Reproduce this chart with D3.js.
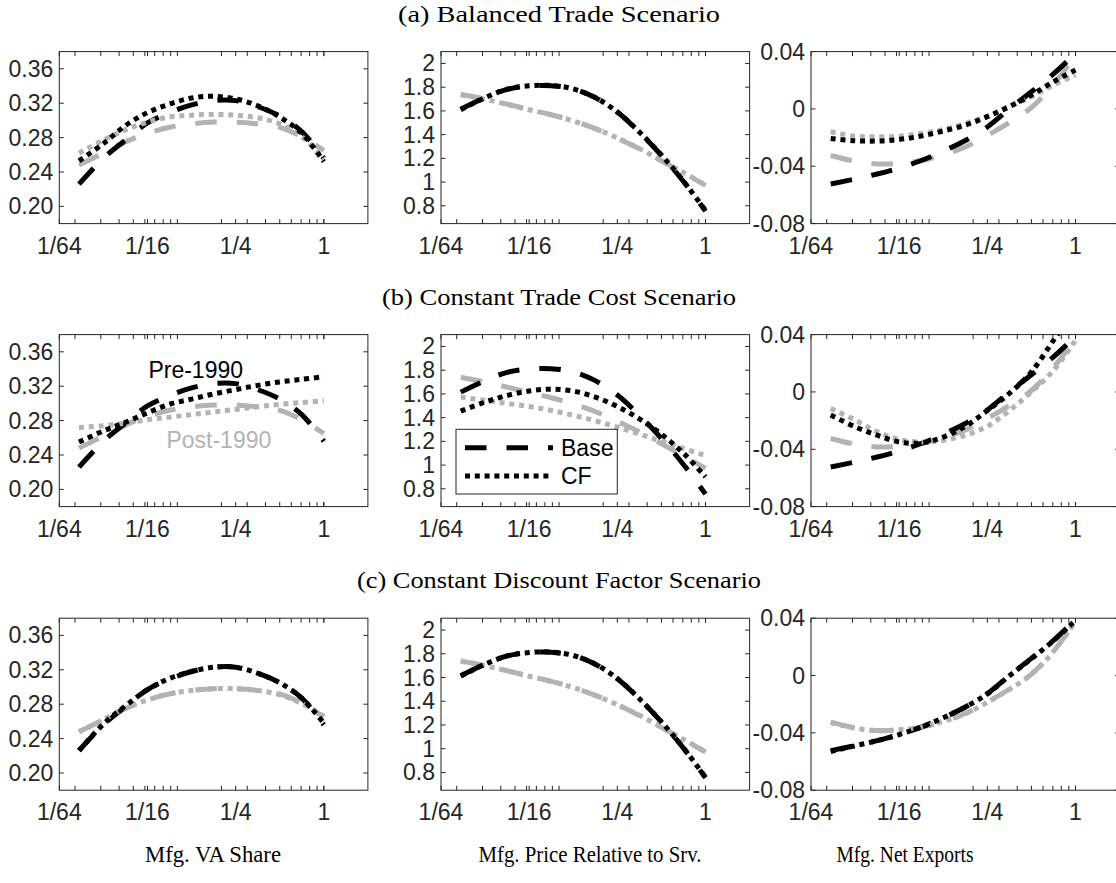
<!DOCTYPE html>
<html><head><meta charset="utf-8">
<script src="https://cdn.jsdelivr.net/npm/d3@7"></script>
<style>body{margin:0;background:#fff;} svg{display:block;}</style>
</head><body>
<svg id="chart" width="1116" height="883"></svg>
<script>
// ---------- data ----------
const scenarioTitles = ["(a) Balanced Trade Scenario", "(b) Constant Trade Cost Scenario", "(c) Constant Discount Factor Scenario"];
const columnLabels = ["Mfg. VA Share", "Mfg. Price Relative to Srv.", "Mfg. Net Exports"];
const xTickValues = [1/64, 1/16, 1/4, 1];
const xTickLabels = ["1/64", "1/16", "1/4", "1"];
const xMinorTicks = [0.02,0.03,0.04,0.05,0.06,0.07,0.08,0.09,0.1,0.2,0.3,0.4,0.5,0.6,0.7,0.8,0.9,1];
const vaTicks = [0.20, 0.24, 0.28, 0.32, 0.36];
const vaTickLabels = ["0.20", "0.24", "0.28", "0.32", "0.36"];
const prTicks = [0.8, 1, 1.2, 1.4, 1.6, 1.8, 2];
const prTickLabels = ["0.8", "1", "1.2", "1.4", "1.6", "1.8", "2"];
const nxTicks = [-0.08, -0.04, 0, 0.04];
const nxTickLabels = ["-0.08", "-0.04", "0", "0.04"];
const seriesNames = ["Base", "CF"];
const periodNames = ["Pre-1990", "Post-1990"];

// x grid of the plotted points
const xGrid = [0.0213, 0.03125, 0.0442, 0.0625, 0.0884, 0.125, 0.1768, 0.25, 0.3536, 0.5, 0.7071, 1];

// Mfg. VA share
const vaBasePre  = [0.226, 0.256, 0.277, 0.297, 0.309, 0.318, 0.323, 0.323, 0.316, 0.305, 0.287, 0.256];
const vaBasePost = [0.248, 0.262, 0.275, 0.285, 0.292, 0.296, 0.298, 0.298, 0.296, 0.292, 0.281, 0.265];
const vaCfPreA   = [0.253, 0.273, 0.294, 0.309, 0.319, 0.326, 0.328, 0.325, 0.317, 0.304, 0.285, 0.252];
const vaCfPostA  = [0.262, 0.277, 0.289, 0.298, 0.304, 0.306, 0.307, 0.306, 0.303, 0.296, 0.281, 0.255];
const vaCfPreB   = [0.255, 0.268, 0.278, 0.289, 0.299, 0.305, 0.311, 0.316, 0.321, 0.325, 0.328, 0.331];
const vaCfPostB  = [0.272, 0.274, 0.277, 0.281, 0.284, 0.287, 0.290, 0.293, 0.296, 0.299, 0.301, 0.303];
const vaCfPreC   = [0.226, 0.257, 0.278, 0.297, 0.310, 0.318, 0.323, 0.323, 0.316, 0.305, 0.287, 0.258];
const vaCfPostC  = [0.248, 0.262, 0.275, 0.285, 0.292, 0.296, 0.298, 0.298, 0.296, 0.291, 0.281, 0.266];

// Mfg. price relative to services
const prBasePre  = [1.615, 1.713, 1.782, 1.810, 1.813, 1.785, 1.712, 1.590, 1.420, 1.225, 1.005, 0.755];
const prBasePost = [1.740, 1.700, 1.657, 1.612, 1.568, 1.515, 1.450, 1.370, 1.280, 1.180, 1.078, 0.972];
const prCfPreA   = [1.610, 1.711, 1.783, 1.812, 1.815, 1.786, 1.713, 1.591, 1.422, 1.228, 1.008, 0.760];
const prCfPostA  = [1.735, 1.698, 1.655, 1.610, 1.567, 1.515, 1.451, 1.372, 1.282, 1.182, 1.080, 0.975];
const prCfPreB   = [1.455, 1.531, 1.587, 1.625, 1.640, 1.624, 1.573, 1.494, 1.390, 1.260, 1.100, 0.900];
const prCfPostB  = [1.573, 1.545, 1.520, 1.494, 1.461, 1.420, 1.373, 1.320, 1.262, 1.200, 1.140, 1.080];
const prCfPreC   = [1.612, 1.712, 1.782, 1.811, 1.814, 1.786, 1.713, 1.591, 1.421, 1.226, 1.006, 0.757];
const prCfPostC  = [1.738, 1.699, 1.656, 1.611, 1.568, 1.515, 1.450, 1.371, 1.281, 1.181, 1.079, 0.973];

// Mfg. net exports
const nxBasePre  = [-0.0524, -0.0489, -0.0454, -0.0412, -0.0360, -0.0295, -0.0220, -0.0126, 0.0000, 0.0120, 0.0245, 0.0388];
const nxBasePost = [-0.0325, -0.0365, -0.0384, -0.0379, -0.0360, -0.0320, -0.0265, -0.0185, -0.0095, 0.0010, 0.0170, 0.0377];
const nxCfPreA   = [-0.0206, -0.0222, -0.0224, -0.0213, -0.0189, -0.0154, -0.0113, -0.0054, 0.0016, 0.0097, 0.0190, 0.0272];
const nxCfPostA  = [-0.0159, -0.0190, -0.0194, -0.0190, -0.0171, -0.0143, -0.0101, -0.0050, 0.0020, 0.0085, 0.0167, 0.0237];
const nxCfPreB   = [-0.0161, -0.0243, -0.0302, -0.0349, -0.0356, -0.0315, -0.0240, -0.0130, -0.0010, 0.0140, 0.0360, 0.0580];
const nxCfPostB  = [-0.0115, -0.0196, -0.0278, -0.0332, -0.0349, -0.0337, -0.0302, -0.0240, -0.0130, 0.0000, 0.0150, 0.0360];
const nxCfPreC   = [-0.0530, -0.0490, -0.0455, -0.0412, -0.0360, -0.0295, -0.0220, -0.0128, -0.0002, 0.0118, 0.0243, 0.0385];
const nxCfPostC  = [-0.0328, -0.0366, -0.0384, -0.0378, -0.0360, -0.0320, -0.0266, -0.0187, -0.0097, 0.0008, 0.0168, 0.0378];

// ---------- layout ----------
const colLeft = [59.3, 441, 811];
const boxW = 308.6;
const rowTop = [51.6, 334.6, 618.2];
const boxH = 172;
const axisColor = "#262626";
const grayLine = "#b3b3b3";
const sansFont = "'Liberation Sans', Arial, Helvetica, sans-serif";
const serifFont = "'Liberation Serif', 'DejaVu Serif', serif";
const tickFont = 23;
const serifSize = 22.5;

const columns = [
  { domain: [0.18, 0.38], ticks: vaTicks, labels: vaTickLabels,
    base: [vaBasePre, vaBasePost],
    cf: [[vaCfPreA, vaCfPostA], [vaCfPreB, vaCfPostB], [vaCfPreC, vaCfPostC]] },
  { domain: [0.65, 2.1], ticks: prTicks, labels: prTickLabels,
    base: [prBasePre, prBasePost],
    cf: [[prCfPreA, prCfPostA], [prCfPreB, prCfPostB], [prCfPreC, prCfPostC]] },
  { domain: [-0.08, 0.04], ticks: nxTicks, labels: nxTickLabels,
    base: [nxBasePre, nxBasePost],
    cf: [[nxCfPreA, nxCfPostA], [nxCfPreB, nxCfPostB], [nxCfPreC, nxCfPostC]] }
];

const dashStyle = { Base: "21.5,20", CF: "5,4.8" };
const periodColor = [ "#000000", grayLine ];
const lineW = 5;

const svg = d3.select("#chart");
const defs = svg.append("defs");

// titles
const titleBaselines = [22, 305, 588];
const titleWidths = [322, 354, 404];
scenarioTitles.forEach((t, i) => {
  svg.append("text").attr("x", 559).attr("y", titleBaselines[i])
    .attr("text-anchor", "middle").attr("font-family", serifFont)
    .attr("font-size", serifSize).attr("fill", "#000")
    .attr("textLength", titleWidths[i]).attr("lengthAdjust", "spacingAndGlyphs").text(t);
});
const colLabelX = [213, 590, 905];
const colLabelW = [136, 223, 137];
columnLabels.forEach((t, i) => {
  svg.append("text").attr("x", colLabelX[i]).attr("y", 862)
    .attr("text-anchor", "middle").attr("font-family", serifFont)
    .attr("font-size", serifSize).attr("fill", "#000")
    .attr("textLength", colLabelW[i]).attr("lengthAdjust", "spacingAndGlyphs").text(t);
});

const scales = {};
for (let r = 0; r < 3; r++) {
  for (let c = 0; c < 3; c++) {
    const col = columns[c];
    const left = colLeft[c], top = rowTop[r];
    const x = d3.scaleLog().base(2).domain([1/64, 2]).range([left, left + boxW]);
    const y = d3.scaleLinear().domain(col.domain).range([top + boxH, top]);
    scales[r + "_" + c] = { x, y };
    const g = svg.append("g");
    const clipId = "clip" + r + c;
    defs.append("clipPath").attr("id", clipId).append("rect")
      .attr("x", left).attr("y", top).attr("width", boxW).attr("height", boxH);

    // curves
    const line = d3.line().x(d => x(d[0])).y(d => y(d[1])).curve(d3.curveCatmullRom.alpha(0.5));
    const plotOrder = [
      { s: "Base", p: 1, v: col.base[1] },
      { s: "Base", p: 0, v: col.base[0] },
      { s: "CF", p: 1, v: col.cf[r][1] },
      { s: "CF", p: 0, v: col.cf[r][0] }
    ];
    const lg = g.append("g").attr("clip-path", `url(#${clipId})`);
    plotOrder.forEach(o => {
      lg.append("path").datum(xGrid.map((xv, i) => [xv, o.v[i]]))
        .attr("d", line).attr("fill", "none")
        .attr("stroke", periodColor[o.p]).attr("stroke-width", lineW)
        .attr("stroke-dasharray", dashStyle[o.s]).attr("stroke-linecap", "butt");
    });

    // box
    g.append("rect").attr("x", left).attr("y", top).attr("width", boxW).attr("height", boxH)
      .attr("fill", "none").attr("stroke", axisColor).attr("stroke-width", 1);

    // x ticks (bottom & top, inward)
    const tl = 4.5;
    const allX = xTickValues.concat(xMinorTicks);
    allX.forEach(v => {
      const px = x(v);
      g.append("line").attr("x1", px).attr("x2", px).attr("y1", top + boxH).attr("y2", top + boxH - tl)
        .attr("stroke", axisColor).attr("stroke-width", 1);
      g.append("line").attr("x1", px).attr("x2", px).attr("y1", top).attr("y2", top + tl)
        .attr("stroke", axisColor).attr("stroke-width", 1);
    });
    xTickValues.forEach((v, i) => {
      g.append("text").attr("x", x(v)).attr("y", top + boxH + 30)
        .attr("text-anchor", "middle").attr("font-family", sansFont).attr("font-size", tickFont)
        .attr("fill", axisColor).text(xTickLabels[i]);
    });
    // y ticks
    col.ticks.forEach((v, i) => {
      const py = y(v);
      g.append("line").attr("x1", left).attr("x2", left + tl).attr("y1", py).attr("y2", py)
        .attr("stroke", axisColor).attr("stroke-width", 1);
      g.append("line").attr("x1", left + boxW).attr("x2", left + boxW - tl).attr("y1", py).attr("y2", py)
        .attr("stroke", axisColor).attr("stroke-width", 1);
      g.append("text").attr("x", left - 6).attr("y", py)
        .attr("text-anchor", "end").attr("dominant-baseline", "central")
        .attr("font-family", sansFont).attr("font-size", tickFont)
        .attr("fill", axisColor).text(col.labels[i]);
    });
  }
}

// annotations in panel (b), column 1
{
  const { x, y } = scales["1_0"];
  svg.append("text").attr("x", x(0.1335)).attr("y", y(0.329)).attr("text-anchor", "middle")
    .attr("font-family", sansFont).attr("font-size", tickFont).attr("fill", "#000").text(periodNames[0]);
  svg.append("text").attr("x", x(0.192)).attr("y", y(0.2477)).attr("text-anchor", "middle")
    .attr("font-family", sansFont).attr("font-size", tickFont).attr("fill", grayLine).text(periodNames[1]);
}

// legend in panel (b), column 2
{
  const lx = 456, ly = 429.3, lw = 161.3, lh = 64.7;
  const lgd = svg.append("g");
  lgd.append("rect").attr("x", lx).attr("y", ly).attr("width", lw).attr("height", lh)
    .attr("fill", "#fff").attr("stroke", axisColor).attr("stroke-width", 1);
  const rowsY = [447.7, 476];
  seriesNames.forEach((s, i) => {
    lgd.append("line").attr("x1", 465).attr("x2", 553).attr("y1", rowsY[i]).attr("y2", rowsY[i])
      .attr("stroke", "#000").attr("stroke-width", lineW).attr("stroke-dasharray", dashStyle[s]);
    lgd.append("text").attr("x", 561).attr("y", rowsY[i]).attr("dominant-baseline", "central")
      .attr("font-family", sansFont).attr("font-size", tickFont).attr("fill", "#000").text(s);
  });
}
</script>
</body></html>
